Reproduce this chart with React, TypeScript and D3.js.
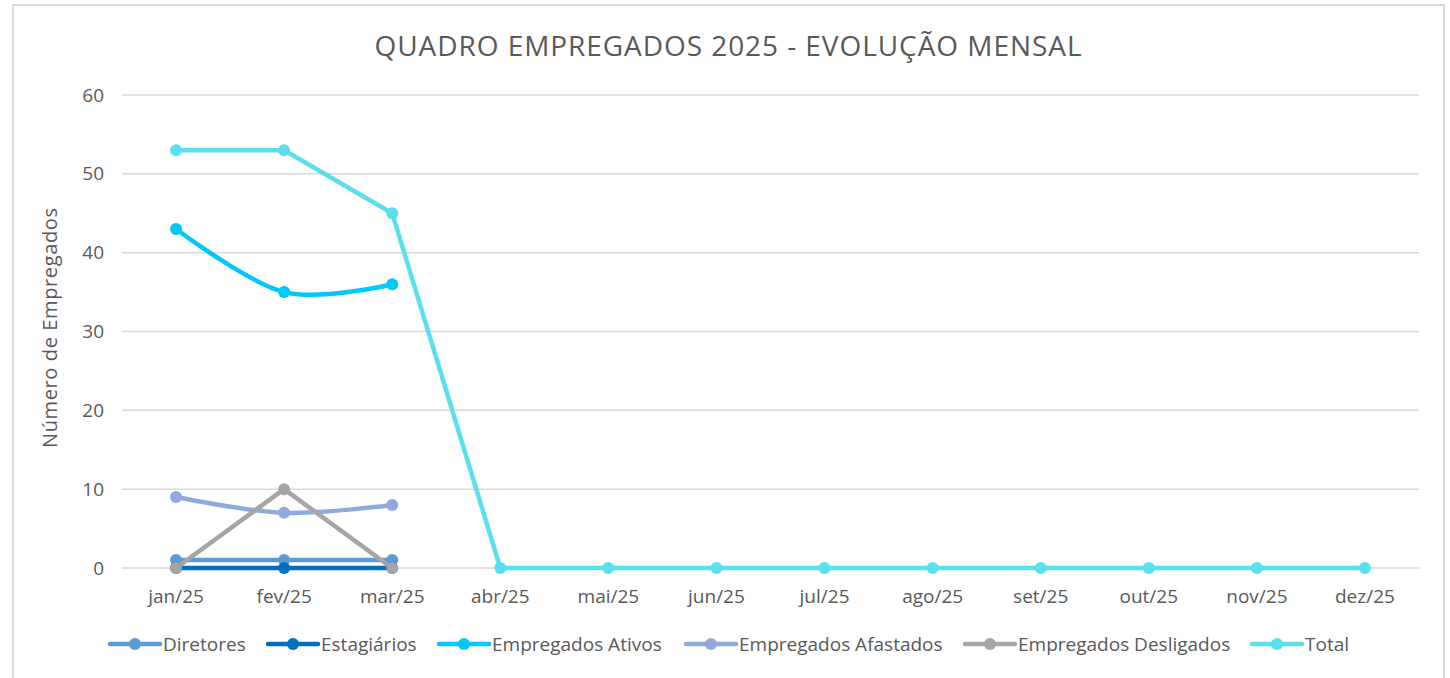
import React, { useEffect, useRef } from 'react';
import * as d3 from 'd3';

const months = ['jan/25', 'fev/25', 'mar/25', 'abr/25', 'mai/25', 'jun/25', 'jul/25', 'ago/25', 'set/25', 'out/25', 'nov/25', 'dez/25'];
const diretores = [1, 1, 1, null, null, null, null, null, null, null, null, null];
const estagiarios = [0, 0, 0, null, null, null, null, null, null, null, null, null];
const ativos = [43, 35, 36, null, null, null, null, null, null, null, null, null];
const afastados = [9, 7, 8, null, null, null, null, null, null, null, null, null];
const desligados = [0, 10, 0, null, null, null, null, null, null, null, null, null];
const total = [53, 53, 45, 0, 0, 0, 0, 0, 0, 0, 0, 0];
const yTicks = [0, 10, 20, 30, 40, 50, 60];

const series = [
  { name: 'Diretores', values: diretores, color: '#5B9BD5', smooth: false },
  { name: 'Estagiários', values: estagiarios, color: '#0070C0', smooth: false },
  { name: 'Empregados Ativos', values: ativos, color: '#00C8F8', smooth: true },
  { name: 'Empregados Afastados', values: afastados, color: '#8EA9DB', smooth: true },
  { name: 'Empregados Desligados', values: desligados, color: '#A5A5A5', smooth: false },
  { name: 'Total', values: total, color: '#5ADFEE', smooth: false },
];

const legendX = [110, 268, 439, 686, 965, 1252];

export default function App() {
  const ref = useRef<SVGSVGElement>(null);

  useEffect(() => {
    const svg = d3.select(ref.current);
    svg.selectAll('*').remove();
    const font = "'Open Sans', sans-serif";
    const grey = '#595959';

    // borda do gráfico
    svg.append('rect').attr('x', 13).attr('y', 5).attr('width', 1431).attr('height', 700)
      .attr('fill', '#fff').attr('stroke', '#D9D9D9').attr('stroke-width', 2);

    const x = d3.scaleBand().domain(months).range([122, 1419]);
    const y = d3.scaleLinear().domain([0, 60]).range([568, 95]);
    const cx = (m: string) => (x(m) as number) + x.bandwidth() / 2;

    svg.append('text').attr('x', 728).attr('y', 56).attr('text-anchor', 'middle')
      .attr('font-family', font).attr('font-size', 28).attr('fill', grey)
      .attr('textLength', 707).attr('lengthAdjust', 'spacing')
      .text('QUADRO EMPREGADOS 2025 - EVOLUÇÃO MENSAL');

    const grid = svg.append('g');
    yTicks.forEach(t => {
      grid.append('line').attr('x1', 122).attr('x2', 1419).attr('y1', y(t)).attr('y2', y(t))
        .attr('stroke', '#D9D9D9').attr('stroke-width', 1.5);
      grid.append('text').attr('x', 104).attr('y', y(t)).attr('dy', '0.35em').attr('text-anchor', 'end')
        .attr('font-family', font).attr('font-size', 19).attr('fill', grey).text(t);
    });

    months.forEach(m => {
      svg.append('text').attr('x', cx(m)).attr('y', 603).attr('text-anchor', 'middle')
        .attr('font-family', font).attr('font-size', 19).attr('fill', grey).text(m);
    });

    svg.append('text').attr('transform', 'translate(57,328) rotate(-90)').attr('text-anchor', 'middle')
      .attr('font-family', font).attr('font-size', 20).attr('fill', grey)
      .attr('textLength', 240).attr('lengthAdjust', 'spacing').text('Número de Empregados');

    series.forEach(s => {
      const pts = months.map((m, i) => ({ m, v: s.values[i] }));
      const line = d3.line<{ m: string; v: number | null }>()
        .defined(d => d.v != null)
        .x(d => cx(d.m))
        .y(d => y(d.v as number))
        .curve(s.smooth ? d3.curveCardinal.tension(0) : d3.curveLinear);
      const g = svg.append('g');
      g.append('path').attr('d', line(pts)).attr('fill', 'none').attr('stroke', s.color)
        .attr('stroke-width', 4.5).attr('stroke-linejoin', 'round').attr('stroke-linecap', 'round');
      g.selectAll('circle').data(pts.filter(d => d.v != null)).join('circle')
        .attr('cx', d => cx(d.m)).attr('cy', d => y(d.v as number)).attr('r', 6).attr('fill', s.color);
    });

    const lg = svg.append('g');
    series.forEach((s, i) => {
      const lx = legendX[i];
      lg.append('line').attr('x1', lx).attr('x2', lx + 50).attr('y1', 644).attr('y2', 644)
        .attr('stroke', s.color).attr('stroke-width', 4.5).attr('stroke-linecap', 'round');
      lg.append('circle').attr('cx', lx + 25).attr('cy', 644).attr('r', 6).attr('fill', s.color);
      lg.append('text').attr('x', lx + 53).attr('y', 644).attr('dy', '0.35em')
        .attr('font-family', font).attr('font-size', 19).attr('fill', grey).text(s.name);
    });
  }, []);

  return <svg ref={ref} width={1450} height={678} style={{ position: 'absolute', left: 0, top: 0 }} />;
}
